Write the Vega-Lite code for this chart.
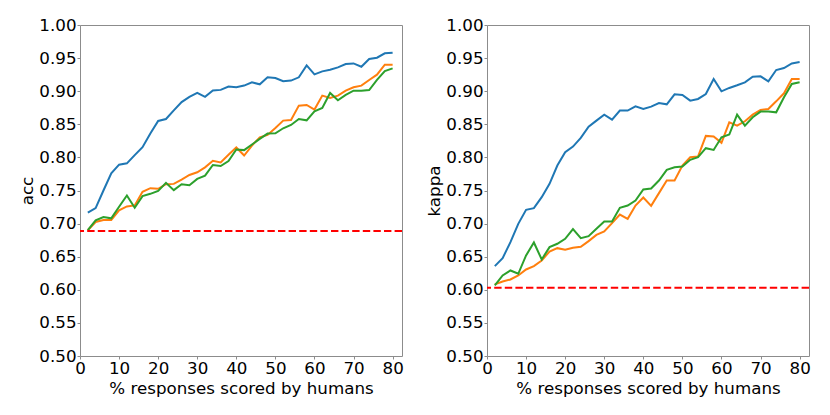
{
  "$schema": "https://vega.github.io/schema/vega-lite/v6.json",
  "padding": {"left": 19, "top": 16, "right": 0, "bottom": 0},
  "spacing": 22,
  "config": {
    "font": "DejaVu Sans",
    "view": {"stroke": "#8c8c8c", "strokeWidth": 1},
    "axis": {
      "domain": false,
      "grid": false,
      "tickColor": "#8c8c8c",
      "tickSize": 3,
      "labelFontSize": 16.7,
      "labelColor": "#000000",
      "labelPadding": 1,
      "labelOverlap": false,
      "labelFlush": false,
      "titleFontSize": 16.7,
      "titleFontWeight": "normal",
      "titleColor": "#000000"
    }
  },
  "datasets": {
    "base": [
      {"p": "acc", "v": 0.689},
      {"p": "kappa", "v": 0.603}
    ],
    "series": [
      {"p":"acc","s":"a","x":2,"v":0.7165},{"p":"acc","s":"a","x":4,"v":0.7235},{"p":"acc","s":"a","x":6,"v":0.750},{"p":"acc","s":"a","x":8,"v":0.776},{"p":"acc","s":"a","x":10,"v":0.789},{"p":"acc","s":"a","x":12,"v":0.791},{"p":"acc","s":"a","x":14,"v":0.8035},{"p":"acc","s":"a","x":16,"v":0.8155},{"p":"acc","s":"a","x":18,"v":0.836},{"p":"acc","s":"a","x":20,"v":0.855},
      {"p":"acc","s":"a","x":22,"v":0.858},{"p":"acc","s":"a","x":24,"v":0.871},{"p":"acc","s":"a","x":26,"v":0.8835},{"p":"acc","s":"a","x":28,"v":0.8915},{"p":"acc","s":"a","x":30,"v":0.8975},{"p":"acc","s":"a","x":32,"v":0.8915},{"p":"acc","s":"a","x":34,"v":0.901},{"p":"acc","s":"a","x":36,"v":0.902},{"p":"acc","s":"a","x":38,"v":0.907},{"p":"acc","s":"a","x":40,"v":0.906},
      {"p":"acc","s":"a","x":42,"v":0.9085},{"p":"acc","s":"a","x":44,"v":0.9134},{"p":"acc","s":"a","x":46,"v":0.9104},{"p":"acc","s":"a","x":48,"v":0.921},{"p":"acc","s":"a","x":50,"v":0.920},{"p":"acc","s":"a","x":52,"v":0.915},{"p":"acc","s":"a","x":54,"v":0.916},{"p":"acc","s":"a","x":56,"v":0.921},{"p":"acc","s":"a","x":58,"v":0.939},{"p":"acc","s":"a","x":60,"v":0.9255},
      {"p":"acc","s":"a","x":62,"v":0.930},{"p":"acc","s":"a","x":64,"v":0.9325},{"p":"acc","s":"a","x":66,"v":0.936},{"p":"acc","s":"a","x":68,"v":0.941},{"p":"acc","s":"a","x":70,"v":0.942},{"p":"acc","s":"a","x":72,"v":0.937},{"p":"acc","s":"a","x":74,"v":0.9486},{"p":"acc","s":"a","x":76,"v":0.9506},{"p":"acc","s":"a","x":78,"v":0.9572},{"p":"acc","s":"a","x":80,"v":0.9582},

      {"p":"acc","s":"b","x":2,"v":0.690},{"p":"acc","s":"b","x":4,"v":0.7025},{"p":"acc","s":"b","x":6,"v":0.7055},{"p":"acc","s":"b","x":8,"v":0.7055},{"p":"acc","s":"b","x":10,"v":0.720},{"p":"acc","s":"b","x":12,"v":0.726},{"p":"acc","s":"b","x":14,"v":0.7275},{"p":"acc","s":"b","x":16,"v":0.748},{"p":"acc","s":"b","x":18,"v":0.7535},{"p":"acc","s":"b","x":20,"v":0.7525},
      {"p":"acc","s":"b","x":22,"v":0.7595},{"p":"acc","s":"b","x":24,"v":0.760},{"p":"acc","s":"b","x":26,"v":0.7665},{"p":"acc","s":"b","x":28,"v":0.7735},{"p":"acc","s":"b","x":30,"v":0.7775},{"p":"acc","s":"b","x":32,"v":0.785},{"p":"acc","s":"b","x":34,"v":0.795},{"p":"acc","s":"b","x":36,"v":0.7925},{"p":"acc","s":"b","x":38,"v":0.804},{"p":"acc","s":"b","x":40,"v":0.815},
      {"p":"acc","s":"b","x":42,"v":0.8028},{"p":"acc","s":"b","x":44,"v":0.8179},{"p":"acc","s":"b","x":46,"v":0.8304},{"p":"acc","s":"b","x":48,"v":0.834},{"p":"acc","s":"b","x":50,"v":0.8445},{"p":"acc","s":"b","x":52,"v":0.8556},{"p":"acc","s":"b","x":54,"v":0.8566},{"p":"acc","s":"b","x":56,"v":0.8782},{"p":"acc","s":"b","x":58,"v":0.8792},{"p":"acc","s":"b","x":60,"v":0.8722},
      {"p":"acc","s":"b","x":62,"v":0.8933},{"p":"acc","s":"b","x":64,"v":0.8898},{"p":"acc","s":"b","x":66,"v":0.8933},{"p":"acc","s":"b","x":68,"v":0.9008},{"p":"acc","s":"b","x":70,"v":0.9059},{"p":"acc","s":"b","x":72,"v":0.9084},{"p":"acc","s":"b","x":74,"v":0.917},{"p":"acc","s":"b","x":76,"v":0.925},{"p":"acc","s":"b","x":78,"v":0.940},{"p":"acc","s":"b","x":80,"v":0.940},

      {"p":"acc","s":"c","x":2,"v":0.690},{"p":"acc","s":"c","x":4,"v":0.705},{"p":"acc","s":"c","x":6,"v":0.710},{"p":"acc","s":"c","x":8,"v":0.708},{"p":"acc","s":"c","x":10,"v":0.7255},{"p":"acc","s":"c","x":12,"v":0.7425},{"p":"acc","s":"c","x":14,"v":0.724},{"p":"acc","s":"c","x":16,"v":0.7415},{"p":"acc","s":"c","x":18,"v":0.745},{"p":"acc","s":"c","x":20,"v":0.7495},
      {"p":"acc","s":"c","x":22,"v":0.7615},{"p":"acc","s":"c","x":24,"v":0.7505},{"p":"acc","s":"c","x":26,"v":0.7595},{"p":"acc","s":"c","x":28,"v":0.758},{"p":"acc","s":"c","x":30,"v":0.7675},{"p":"acc","s":"c","x":32,"v":0.7725},{"p":"acc","s":"c","x":34,"v":0.7885},{"p":"acc","s":"c","x":36,"v":0.787},{"p":"acc","s":"c","x":38,"v":0.7945},{"p":"acc","s":"c","x":40,"v":0.812},
      {"p":"acc","s":"c","x":42,"v":0.811},{"p":"acc","s":"c","x":44,"v":0.8194},{"p":"acc","s":"c","x":46,"v":0.8279},{"p":"acc","s":"c","x":48,"v":0.836},{"p":"acc","s":"c","x":50,"v":0.8365},{"p":"acc","s":"c","x":52,"v":0.844},{"p":"acc","s":"c","x":54,"v":0.849},{"p":"acc","s":"c","x":56,"v":0.858},{"p":"acc","s":"c","x":58,"v":0.856},{"p":"acc","s":"c","x":60,"v":0.8697},
      {"p":"acc","s":"c","x":62,"v":0.8747},{"p":"acc","s":"c","x":64,"v":0.8973},{"p":"acc","s":"c","x":66,"v":0.8863},{"p":"acc","s":"c","x":68,"v":0.8943},{"p":"acc","s":"c","x":70,"v":0.9008},{"p":"acc","s":"c","x":72,"v":0.9008},{"p":"acc","s":"c","x":74,"v":0.9018},{"p":"acc","s":"c","x":76,"v":0.917},{"p":"acc","s":"c","x":78,"v":0.9305},{"p":"acc","s":"c","x":80,"v":0.9345},

      {"p":"kappa","s":"a","x":2,"v":0.6358},{"p":"kappa","s":"a","x":4,"v":0.6478},{"p":"kappa","s":"a","x":6,"v":0.672},{"p":"kappa","s":"a","x":8,"v":0.6996},{"p":"kappa","s":"a","x":10,"v":0.7208},{"p":"kappa","s":"a","x":12,"v":0.7233},{"p":"kappa","s":"a","x":14,"v":0.7399},{"p":"kappa","s":"a","x":16,"v":0.760},{"p":"kappa","s":"a","x":18,"v":0.7877},{"p":"kappa","s":"a","x":20,"v":0.8078},
      {"p":"kappa","s":"a","x":22,"v":0.8163},{"p":"kappa","s":"a","x":24,"v":0.8294},{"p":"kappa","s":"a","x":26,"v":0.8465},{"p":"kappa","s":"a","x":28,"v":0.8556},{"p":"kappa","s":"a","x":30,"v":0.8646},{"p":"kappa","s":"a","x":32,"v":0.8571},{"p":"kappa","s":"a","x":34,"v":0.8707},{"p":"kappa","s":"a","x":36,"v":0.8707},{"p":"kappa","s":"a","x":38,"v":0.8772},{"p":"kappa","s":"a","x":40,"v":0.8732},
      {"p":"kappa","s":"a","x":42,"v":0.8767},{"p":"kappa","s":"a","x":44,"v":0.8822},{"p":"kappa","s":"a","x":46,"v":0.8802},{"p":"kappa","s":"a","x":48,"v":0.8953},{"p":"kappa","s":"a","x":50,"v":0.8943},{"p":"kappa","s":"a","x":52,"v":0.8857},{"p":"kappa","s":"a","x":54,"v":0.8883},{"p":"kappa","s":"a","x":56,"v":0.8958},{"p":"kappa","s":"a","x":58,"v":0.9184},{"p":"kappa","s":"a","x":60,"v":0.8998},
      {"p":"kappa","s":"a","x":62,"v":0.9049},{"p":"kappa","s":"a","x":64,"v":0.9089},{"p":"kappa","s":"a","x":66,"v":0.9134},{"p":"kappa","s":"a","x":68,"v":0.922},{"p":"kappa","s":"a","x":70,"v":0.9225},{"p":"kappa","s":"a","x":72,"v":0.915},{"p":"kappa","s":"a","x":74,"v":0.932},{"p":"kappa","s":"a","x":76,"v":0.935},{"p":"kappa","s":"a","x":78,"v":0.942},{"p":"kappa","s":"a","x":80,"v":0.9441},

      {"p":"kappa","s":"b","x":2,"v":0.6081},{"p":"kappa","s":"b","x":4,"v":0.6126},{"p":"kappa","s":"b","x":6,"v":0.6156},{"p":"kappa","s":"b","x":8,"v":0.6217},{"p":"kappa","s":"b","x":10,"v":0.6307},{"p":"kappa","s":"b","x":12,"v":0.6358},{"p":"kappa","s":"b","x":14,"v":0.6443},{"p":"kappa","s":"b","x":16,"v":0.6579},{"p":"kappa","s":"b","x":18,"v":0.6629},{"p":"kappa","s":"b","x":20,"v":0.6604},
      {"p":"kappa","s":"b","x":22,"v":0.6634},{"p":"kappa","s":"b","x":24,"v":0.6649},{"p":"kappa","s":"b","x":26,"v":0.6735},{"p":"kappa","s":"b","x":28,"v":0.683},{"p":"kappa","s":"b","x":30,"v":0.6881},{"p":"kappa","s":"b","x":32,"v":0.7007},{"p":"kappa","s":"b","x":34,"v":0.7137},{"p":"kappa","s":"b","x":36,"v":0.7072},{"p":"kappa","s":"b","x":38,"v":0.7273},{"p":"kappa","s":"b","x":40,"v":0.7394},
      {"p":"kappa","s":"b","x":42,"v":0.7268},{"p":"kappa","s":"b","x":44,"v":0.746},{"p":"kappa","s":"b","x":46,"v":0.7651},{"p":"kappa","s":"b","x":48,"v":0.7651},{"p":"kappa","s":"b","x":50,"v":0.7877},{"p":"kappa","s":"b","x":52,"v":0.8003},{"p":"kappa","s":"b","x":54,"v":0.8013},{"p":"kappa","s":"b","x":56,"v":0.8325},{"p":"kappa","s":"b","x":58,"v":0.8315},{"p":"kappa","s":"b","x":60,"v":0.822},
      {"p":"kappa","s":"b","x":62,"v":0.853},{"p":"kappa","s":"b","x":64,"v":0.848},{"p":"kappa","s":"b","x":66,"v":0.8546},{"p":"kappa","s":"b","x":68,"v":0.8646},{"p":"kappa","s":"b","x":70,"v":0.8717},{"p":"kappa","s":"b","x":72,"v":0.8732},{"p":"kappa","s":"b","x":74,"v":0.8847},{"p":"kappa","s":"b","x":76,"v":0.8968},{"p":"kappa","s":"b","x":78,"v":0.9184},{"p":"kappa","s":"b","x":80,"v":0.9184},

      {"p":"kappa","s":"c","x":2,"v":0.6066},{"p":"kappa","s":"c","x":4,"v":0.6217},{"p":"kappa","s":"c","x":6,"v":0.6292},{"p":"kappa","s":"c","x":8,"v":0.6242},{"p":"kappa","s":"c","x":10,"v":0.6519},{"p":"kappa","s":"c","x":12,"v":0.6715},{"p":"kappa","s":"c","x":14,"v":0.6458},{"p":"kappa","s":"c","x":16,"v":0.6644},{"p":"kappa","s":"c","x":18,"v":0.6695},{"p":"kappa","s":"c","x":20,"v":0.677},
      {"p":"kappa","s":"c","x":22,"v":0.6916},{"p":"kappa","s":"c","x":24,"v":0.678},{"p":"kappa","s":"c","x":26,"v":0.681},{"p":"kappa","s":"c","x":28,"v":0.6921},{"p":"kappa","s":"c","x":30,"v":0.7032},{"p":"kappa","s":"c","x":32,"v":0.7032},{"p":"kappa","s":"c","x":34,"v":0.7238},{"p":"kappa","s":"c","x":36,"v":0.7273},{"p":"kappa","s":"c","x":38,"v":0.7349},{"p":"kappa","s":"c","x":40,"v":0.7515},
      {"p":"kappa","s":"c","x":42,"v":0.753},{"p":"kappa","s":"c","x":44,"v":0.7651},{"p":"kappa","s":"c","x":46,"v":0.7812},{"p":"kappa","s":"c","x":48,"v":0.7852},{"p":"kappa","s":"c","x":50,"v":0.7862},{"p":"kappa","s":"c","x":52,"v":0.7963},{"p":"kappa","s":"c","x":54,"v":0.8003},{"p":"kappa","s":"c","x":56,"v":0.8139},{"p":"kappa","s":"c","x":58,"v":0.8113},{"p":"kappa","s":"c","x":60,"v":0.8304},
      {"p":"kappa","s":"c","x":62,"v":0.8345},{"p":"kappa","s":"c","x":64,"v":0.8646},{"p":"kappa","s":"c","x":66,"v":0.848},{"p":"kappa","s":"c","x":68,"v":0.8606},{"p":"kappa","s":"c","x":70,"v":0.8692},{"p":"kappa","s":"c","x":72,"v":0.8692},{"p":"kappa","s":"c","x":74,"v":0.8681},{"p":"kappa","s":"c","x":76,"v":0.8908},{"p":"kappa","s":"c","x":78,"v":0.9109},{"p":"kappa","s":"c","x":80,"v":0.9134}
    ]
  },
  "hconcat": [
    {
      "width": 322,
      "height": 331,
      "layer": [
        {
          "data": {"name": "series"},
          "transform": [{"filter": "datum.p === 'acc'"}],
          "mark": {"type": "line", "strokeWidth": 2, "clip": true},
          "encoding": {
            "x": {"field": "x", "type": "quantitative", "scale": {"domain": [0, 82.4], "nice": false, "zero": false},
                  "axis": {"values": [0, 10, 20, 30, 40, 50, 60, 70, 80], "tickCount": 9, "title": "% responses scored by humans", "titlePadding": 4}},
            "y": {"field": "v", "type": "quantitative", "scale": {"domain": [0.5, 1.0], "nice": false, "zero": false},
                  "axis": {"values": [0.5, 0.55, 0.6, 0.65, 0.7, 0.75, 0.8, 0.85, 0.9, 0.95, 1.0], "tickCount": 11, "format": ".2f", "title": "acc", "titlePadding": 2}},
            "color": {"field": "s", "type": "nominal", "scale": {"domain": ["a", "b", "c"], "range": ["#1f77b4", "#ff7f0e", "#2ca02c"]}, "legend": null}
          }
        },
        {
          "data": {"name": "base"},
          "transform": [{"filter": "datum.p === 'acc'"}],
          "mark": {"type": "rule", "color": "#ff0000", "strokeWidth": 2, "strokeDash": [7.4, 3.2]},
          "encoding": {"y": {"field": "v", "type": "quantitative"}}
        }
      ]
    },
    {
      "width": 322,
      "height": 331,
      "layer": [
        {
          "data": {"name": "series"},
          "transform": [{"filter": "datum.p === 'kappa'"}],
          "mark": {"type": "line", "strokeWidth": 2, "clip": true},
          "encoding": {
            "x": {"field": "x", "type": "quantitative", "scale": {"domain": [0, 82.4], "nice": false, "zero": false},
                  "axis": {"values": [0, 10, 20, 30, 40, 50, 60, 70, 80], "tickCount": 9, "title": "% responses scored by humans", "titlePadding": 4}},
            "y": {"field": "v", "type": "quantitative", "scale": {"domain": [0.5, 1.0], "nice": false, "zero": false},
                  "axis": {"values": [0.5, 0.55, 0.6, 0.65, 0.7, 0.75, 0.8, 0.85, 0.9, 0.95, 1.0], "tickCount": 11, "format": ".2f", "title": "kappa", "titlePadding": 2}},
            "color": {"field": "s", "type": "nominal", "scale": {"domain": ["a", "b", "c"], "range": ["#1f77b4", "#ff7f0e", "#2ca02c"]}, "legend": null}
          }
        },
        {
          "data": {"name": "base"},
          "transform": [{"filter": "datum.p === 'kappa'"}],
          "mark": {"type": "rule", "color": "#ff0000", "strokeWidth": 2, "strokeDash": [7.4, 3.2]},
          "encoding": {"y": {"field": "v", "type": "quantitative"}}
        }
      ]
    }
  ]
}
